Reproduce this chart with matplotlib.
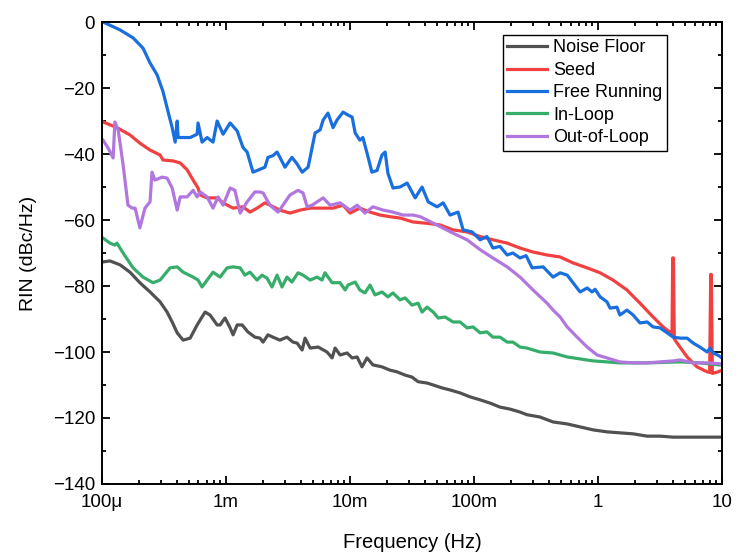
import matplotlib
matplotlib.use("Agg")
import matplotlib.pyplot as plt
from matplotlib.ticker import FixedLocator, FixedFormatter, LogLocator, MultipleLocator

plt.rcParams['font.family'] = ['Liberation Sans', 'DejaVu Sans']

# Noise Floor
noise_f = [1.02e-4, 1.16e-4, 1.40e-4, 1.68e-4, 2.02e-4, 2.44e-4, 2.94e-4, 3.35e-4, 3.68e-4, 4.04e-4,
           4.51e-4, 5.14e-4, 5.85e-4, 6.78e-4, 7.44e-4, 8.48e-4, 8.96e-4, 9.82e-4, 1.08e-3, 1.14e-3,
           1.23e-3, 1.35e-3, 1.50e-3, 1.71e-3, 1.88e-3, 1.99e-3, 2.18e-3, 2.39e-3, 2.72e-3, 3.10e-3,
           3.47e-3, 3.74e-3, 4.11e-3, 4.34e-3, 4.77e-3, 5.54e-3, 6.52e-3, 7.17e-3, 7.58e-3, 8.32e-3,
           9.47e-3, 1.04e-2, 1.14e-2, 1.25e-2, 1.37e-2, 1.53e-2, 1.81e-2, 2.10e-2, 2.39e-2, 2.78e-2,
           3.16e-2, 3.54e-2, 4.18e-2, 4.69e-2, 5.54e-2, 6.41e-2, 7.72e-2, 9.30e-2, 0.112, 0.135,
           0.162, 0.195, 0.235, 0.267, 0.340, 0.434, 0.564, 0.717, 0.913, 1.18,
           1.50, 1.92, 2.49, 3.16, 4.04, 6.64, 10.0]
noise_db = [-72.7, -72.4, -73.6, -75.8, -79.0, -81.8, -84.8, -87.9, -90.9, -94.2,
            -96.4, -95.8, -91.8, -87.9, -88.8, -91.8, -91.8, -89.7, -92.7, -94.8,
            -91.8, -91.8, -93.9, -95.5, -95.8, -97.0, -94.8, -95.5, -96.4, -95.5,
            -97.0, -97.3, -99.4, -95.8, -98.8, -98.5, -100.0, -101.8, -98.8, -100.9,
            -100.3, -101.8, -101.5, -104.5, -101.8, -103.9, -104.5, -105.5, -106.0, -107.0,
            -107.6, -109.0, -109.4, -110.0, -110.9, -111.5, -112.4, -113.6, -114.5, -115.5,
            -116.7, -117.3, -118.2, -119.0, -119.7, -121.2, -121.8, -122.7, -123.6, -124.2,
            -124.5, -124.8, -125.5, -125.5, -125.8, -125.8, -125.8]

# Seed
seed_f = [1.02e-4, 1.32e-4, 1.68e-4, 2.02e-4, 2.44e-4, 2.94e-4, 3.10e-4, 3.74e-4, 4.27e-4, 4.86e-4,
          5.43e-4, 5.95e-4, 6.19e-4, 7.04e-4, 8.48e-4, 9.47e-4, 1.14e-3, 1.37e-3, 1.56e-3, 1.78e-3,
          2.06e-3, 2.26e-3, 2.72e-3, 3.28e-3, 3.96e-3, 4.77e-3, 6.07e-3, 7.30e-3, 8.79e-3, 1.00e-2,
          1.20e-2, 1.45e-2, 1.75e-2, 2.10e-2, 2.53e-2, 3.23e-2, 4.18e-2, 5.33e-2, 6.78e-2, 8.79e-2,
          0.112, 0.142, 0.185, 0.235, 0.299, 0.388, 0.495, 0.628, 0.817, 1.04,
          1.32, 1.71, 2.18, 2.78, 3.35, 3.81, 3.95, 4.00, 4.06, 4.12,
          4.34, 5.23, 6.28, 7.58, 7.95, 8.10, 8.20, 8.35, 9.30, 10.0]
seed_db = [-30.3, -32.0, -34.2, -36.7, -38.8, -40.3, -41.8, -42.1, -42.7, -44.8,
           -47.9, -50.3, -52.4, -53.3, -53.3, -54.8, -56.4, -56.0, -57.6, -56.4,
           -54.8, -55.5, -57.0, -57.9, -57.0, -56.4, -56.4, -56.4, -55.5, -57.9,
           -56.4, -57.6, -58.5, -59.0, -59.4, -60.6, -61.0, -61.5, -63.0, -63.6,
           -65.0, -66.0, -67.0, -68.5, -69.7, -70.6, -71.2, -73.0, -74.5, -76.0,
           -78.2, -81.2, -85.2, -89.4, -92.4, -94.0, -94.8, -71.5, -71.5, -96.0,
           -97.3, -101.5, -104.5, -106.0, -106.2, -76.5, -76.5, -106.5, -106.0, -105.5]

# Free Running
free_f = [1.02e-4, 1.40e-4, 1.78e-4, 2.14e-4, 2.44e-4, 2.78e-4, 3.10e-4, 3.40e-4, 3.68e-4, 3.89e-4,
          4.04e-4, 4.11e-4, 5.14e-4, 5.85e-4, 5.95e-4, 6.41e-4, 7.04e-4, 7.86e-4, 8.48e-4, 9.47e-4,
          1.08e-3, 1.23e-3, 1.37e-3, 1.48e-3, 1.65e-3, 1.78e-3, 2.06e-3, 2.18e-3, 2.39e-3, 2.58e-3,
          2.72e-3, 2.99e-3, 3.40e-3, 3.74e-3, 4.11e-3, 4.59e-3, 4.77e-3, 5.23e-3, 5.74e-3, 6.07e-3,
          6.64e-3, 7.30e-3, 7.86e-3, 8.79e-3, 9.64e-3, 1.04e-2, 1.10e-2, 1.20e-2, 1.27e-2, 1.40e-2,
          1.50e-2, 1.65e-2, 1.81e-2, 1.92e-2, 2.02e-2, 2.22e-2, 2.53e-2, 2.89e-2, 3.35e-2, 3.81e-2,
          4.27e-2, 5.04e-2, 5.64e-2, 6.41e-2, 7.44e-2, 8.17e-2, 9.64e-2, 0.112, 0.127, 0.142,
          0.162, 0.185, 0.206, 0.235, 0.263, 0.294, 0.361, 0.434, 0.495, 0.564,
          0.628, 0.717, 0.817, 0.896, 0.947, 1.04, 1.18, 1.25, 1.42, 1.50,
          1.71, 1.92, 2.18, 2.49, 2.78, 3.16, 3.61, 4.04, 4.59, 5.23,
          5.85, 6.64, 7.58, 8.02, 8.48, 9.30, 10.0]
free_db = [0.0, -2.4, -4.8, -7.9, -12.4, -16.0, -21.0, -27.0, -32.0, -36.4,
           -30.0, -35.0, -35.0, -34.0, -30.6, -36.4, -35.0, -36.4, -30.0, -34.0,
           -30.6, -33.0, -38.0, -39.4, -45.5, -45.0, -44.0, -41.0, -40.5, -39.4,
           -41.0, -44.0, -41.0, -43.0, -45.5, -44.0, -41.0, -33.6, -32.7, -29.7,
           -27.6, -32.0, -29.7, -27.3, -28.2, -28.8, -33.6, -35.8, -35.0, -41.0,
           -45.5, -45.0, -40.3, -39.4, -45.8, -50.3, -50.0, -48.8, -53.3, -50.0,
           -54.5, -56.0, -54.8, -58.5, -57.6, -63.0, -63.6, -66.0, -65.0, -68.5,
           -68.0, -70.6, -70.0, -71.5, -70.8, -74.5, -74.2, -77.3, -76.0, -76.7,
           -79.0, -81.8, -80.6, -81.8, -81.0, -83.3, -84.8, -86.7, -86.4, -88.8,
           -87.3, -88.8, -91.2, -90.9, -92.4, -92.7, -94.2, -95.5, -95.8, -95.8,
           -97.3, -98.5, -100.0, -98.8, -100.3, -101.0, -101.8]

# In-Loop
inloop_f = [1.02e-4, 1.16e-4, 1.27e-4, 1.32e-4, 1.48e-4, 1.78e-4, 2.14e-4, 2.58e-4, 2.94e-4, 3.54e-4,
            4.04e-4, 4.51e-4, 5.43e-4, 5.95e-4, 6.41e-4, 7.04e-4, 7.86e-4, 8.96e-4, 1.02e-3, 1.14e-3,
            1.30e-3, 1.42e-3, 1.56e-3, 1.78e-3, 1.95e-3, 2.14e-3, 2.35e-3, 2.58e-3, 2.83e-3, 3.10e-3,
            3.40e-3, 3.81e-3, 4.18e-3, 4.77e-3, 5.43e-3, 5.95e-3, 6.28e-3, 7.17e-3, 8.32e-3, 9.13e-3,
            9.64e-3, 1.10e-2, 1.20e-2, 1.32e-2, 1.45e-2, 1.59e-2, 1.81e-2, 2.02e-2, 2.22e-2, 2.53e-2,
            2.78e-2, 3.16e-2, 3.54e-2, 3.81e-2, 4.18e-2, 4.69e-2, 5.14e-2, 5.85e-2, 6.78e-2, 7.72e-2,
            8.79e-2, 9.82e-2, 0.112, 0.127, 0.142, 0.162, 0.185, 0.206, 0.235, 0.267,
            0.340, 0.434, 0.564, 0.717, 0.913, 1.18, 1.50, 2.49, 4.59, 6.64, 10.0]
inloop_db = [-65.5, -67.0, -67.6, -67.0, -70.0, -74.5, -77.3, -79.0, -78.2, -74.5,
             -74.2, -75.8, -77.3, -78.2, -80.3, -78.2, -75.8, -77.3, -74.5, -74.2,
             -74.5, -76.7, -75.8, -78.2, -76.7, -77.6, -80.3, -76.7, -80.3, -77.3,
             -78.8, -76.0, -76.7, -78.2, -77.3, -78.2, -76.0, -79.0, -79.0, -81.2,
             -79.7, -78.8, -81.2, -82.1, -79.7, -82.7, -81.8, -83.3, -82.1, -84.2,
             -83.6, -85.8, -85.2, -87.9, -86.4, -87.9, -89.7, -89.4, -90.9, -90.9,
             -92.7, -92.4, -94.2, -93.9, -95.5, -95.5, -97.0, -97.0, -98.5, -98.8,
             -100.0, -100.3, -101.5, -102.1, -102.7, -103.0, -103.3, -103.3, -103.0, -103.3, -104.0]

# Out-of-Loop
outloop_f = [1.02e-4, 1.12e-4, 1.23e-4, 1.27e-4, 1.35e-4, 1.48e-4, 1.62e-4, 1.75e-4, 1.85e-4, 2.02e-4,
             2.22e-4, 2.44e-4, 2.53e-4, 2.67e-4, 3.05e-4, 3.35e-4, 3.68e-4, 4.04e-4, 4.27e-4, 4.86e-4,
             5.43e-4, 5.85e-4, 6.19e-4, 7.04e-4, 7.86e-4, 8.63e-4, 9.47e-4, 1.08e-3, 1.18e-3, 1.30e-3,
             1.48e-3, 1.71e-3, 1.88e-3, 1.99e-3, 2.26e-3, 2.63e-3, 2.88e-3, 3.28e-3, 3.81e-3, 4.18e-3,
             4.51e-3, 4.95e-3, 6.07e-3, 6.91e-3, 8.32e-3, 1.00e-2, 1.14e-2, 1.32e-2, 1.53e-2, 1.85e-2,
             2.22e-2, 2.67e-2, 3.23e-2, 3.68e-2, 4.18e-2, 5.33e-2, 6.78e-2, 8.79e-2, 0.112, 0.142,
             0.185, 0.235, 0.299, 0.388, 0.434, 0.495, 0.564, 0.678, 0.817, 0.982,
             1.18, 1.50, 1.92, 2.49, 3.16, 4.04, 4.59, 5.85, 7.58, 10.0]
outloop_db = [-35.8, -38.2, -41.2, -30.3, -32.7, -43.3, -55.5, -56.4, -56.4, -62.4,
              -56.4, -54.5, -45.5, -47.9, -47.0, -47.3, -50.3, -57.0, -53.0, -53.0,
              -51.0, -53.0, -51.5, -53.0, -56.4, -53.0, -55.5, -50.3, -51.0, -57.9,
              -54.5, -51.5, -51.5, -51.8, -55.5, -57.6, -55.5, -52.4, -51.0, -51.8,
              -56.0, -55.5, -53.3, -55.5, -54.8, -57.0, -55.5, -57.9, -56.0, -57.0,
              -57.6, -58.5, -58.5, -59.0, -60.0, -62.0, -64.0, -66.0, -69.0, -71.5,
              -74.2, -77.3, -81.2, -85.2, -87.3, -89.4, -92.4, -95.5, -98.5, -100.9,
              -101.8, -103.0, -103.3, -103.3, -103.0, -102.7, -102.4, -103.3, -103.3, -103.6]

series = [
    ("Noise Floor", noise_f, noise_db, "#515151"),
    ("Seed", seed_f, seed_db, "#F14040"),
    ("Free Running", free_f, free_db, "#1A6FDF"),
    ("In-Loop", inloop_f, inloop_db, "#37AD6B"),
    ("Out-of-Loop", outloop_f, outloop_db, "#B177DE"),
]

xtick_vals = [1e-4, 1e-3, 1e-2, 1e-1, 1, 10]
xtick_labels = ["100\u03bc", "1m", "10m", "100m", "1", "10"]

fig = plt.figure(figsize=(7.37, 5.52), dpi=100)
ax = fig.add_axes([0.1384, 0.1232, 0.8413, 0.8369])

for name, f, db, color in series:
    ax.plot(f, db, color=color, lw=2.3, label=name)

ax.set_xscale("log")
ax.set_xlim(1e-4, 10)
ax.set_ylim(-140, 0)

ax.xaxis.set_major_locator(FixedLocator(xtick_vals))
ax.xaxis.set_major_formatter(FixedFormatter(xtick_labels))
ax.xaxis.set_minor_locator(LogLocator(base=10, subs=range(2, 10), numticks=20))
ax.yaxis.set_major_locator(MultipleLocator(20))
ax.yaxis.set_minor_locator(MultipleLocator(10))

ax.tick_params(which="both", direction="in", top=True, right=True, labelsize=13.5, width=1.3)
ax.tick_params(which="major", length=6, pad=5)
ax.tick_params(axis="x", which="major", pad=7)
ax.tick_params(which="minor", length=3)
for sp in ax.spines.values():
    sp.set_linewidth(1.4)

ax.set_xlabel("Frequency (Hz)", fontsize=14.5, labelpad=16)
ax.set_ylabel("RIN (dBc/Hz)", fontsize=14, labelpad=11)

leg = ax.legend(loc="upper right", bbox_to_anchor=(0.911, 0.972), borderaxespad=0,
                fontsize=13, handlelength=2.2, labelspacing=0.3, handletextpad=0.35,
                fancybox=False, framealpha=1, edgecolor="black", borderpad=0.25)
leg.get_frame().set_linewidth(1.0)

fig.savefig("out.png", dpi=100)
